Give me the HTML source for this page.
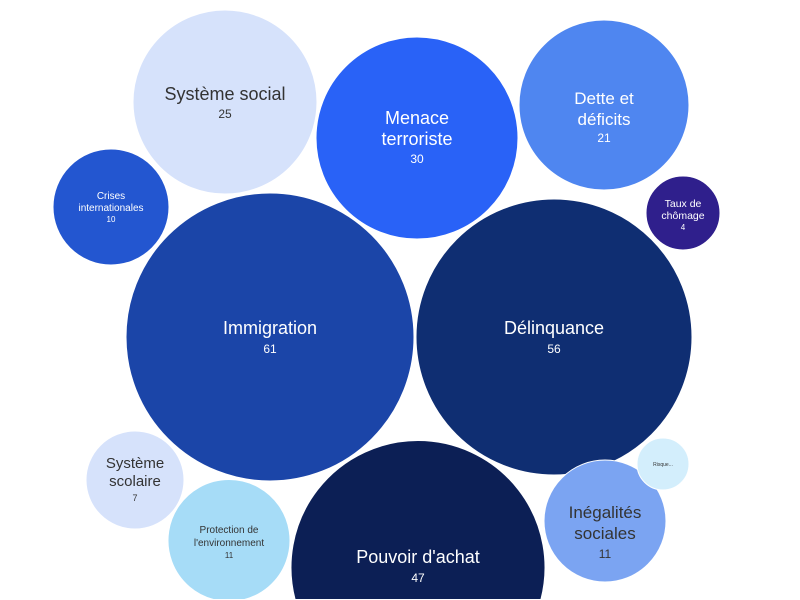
<!DOCTYPE html>
<html><head><meta charset="utf-8"><style>
html,body{margin:0;padding:0;background:#fff;width:800px;height:600px;overflow:hidden;}
svg{display:block;font-family:"Liberation Sans",sans-serif;}
</style></head><body>
<svg width="800" height="600" viewBox="0 0 800 600" xmlns="http://www.w3.org/2000/svg" overflow="hidden">
<g stroke="#fff" stroke-width="1">
<circle cx="225" cy="102" r="92" fill="#d6e2fb"/>
<circle cx="417" cy="138" r="101" fill="#2962f7"/>
<circle cx="604" cy="105" r="85" fill="#4f86f0"/>
<circle cx="683" cy="213" r="37" fill="#2f1f8c"/>
<circle cx="111" cy="207" r="58" fill="#2356d0"/>
<circle cx="270" cy="337" r="144" fill="#1b45a8"/>
<circle cx="554" cy="337" r="138" fill="#0f2e72"/>
<circle cx="135" cy="480" r="49" fill="#d6e2fb"/>
<path d="M213.5,599.5 A61,61 0 1 1 244.5,599.5 Z" fill="#a6dcf7"/>
<path d="M295.1,599.5 A127,127 0 1 1 540.9,599.5 Z" fill="#0c1f55"/>
<circle cx="605" cy="521" r="61" fill="#7ba4f2"/>
<circle cx="663" cy="464" r="26" fill="#d3eefc"/>
</g>
<g text-anchor="middle">
<text x="225" y="100" font-size="18" fill="#333">Système social</text>
<text x="225" y="118" font-size="12" fill="#333">25</text>
<text x="417" y="124" font-size="18" fill="#fff">Menace</text>
<text x="417" y="145" font-size="18" fill="#fff">terroriste</text>
<text x="417" y="163" font-size="12" fill="#fff">30</text>
<text x="604" y="104" font-size="17" fill="#fff">Dette et</text>
<text x="604" y="125" font-size="17" fill="#fff">déficits</text>
<text x="604" y="142" font-size="12" fill="#fff">21</text>
<text x="683" y="207" font-size="10.5" fill="#fff">Taux de</text>
<text x="683" y="219" font-size="10.5" fill="#fff">chômage</text>
<text x="683" y="230" font-size="8" fill="#fff">4</text>
<text x="111" y="199" font-size="10" fill="#fff">Crises</text>
<text x="111" y="211" font-size="10" fill="#fff">internationales</text>
<text x="111" y="222" font-size="8" fill="#fff">10</text>
<text x="270" y="334" font-size="18" fill="#fff">Immigration</text>
<text x="270" y="353" font-size="12" fill="#fff">61</text>
<text x="554" y="334" font-size="18" fill="#fff">Délinquance</text>
<text x="554" y="353" font-size="12" fill="#fff">56</text>
<text x="135" y="468" font-size="15" fill="#333">Système</text>
<text x="135" y="486" font-size="15" fill="#333">scolaire</text>
<text x="135" y="501" font-size="9" fill="#333">7</text>
<text x="229" y="533" font-size="10" fill="#333">Protection de</text>
<text x="229" y="546" font-size="10" fill="#333">l'environnement</text>
<text x="229" y="558" font-size="8" fill="#333">11</text>
<text x="418" y="563" font-size="18" fill="#fff">Pouvoir d'achat</text>
<text x="418" y="582" font-size="12" fill="#fff">47</text>
<text x="605" y="518" font-size="17" fill="#333">Inégalités</text>
<text x="605" y="539" font-size="17" fill="#333">sociales</text>
<text x="605" y="558" font-size="12" fill="#333">11</text>
<text x="663" y="466" font-size="5" fill="#333">Risque...</text>
</g>
</svg>
</body></html>
